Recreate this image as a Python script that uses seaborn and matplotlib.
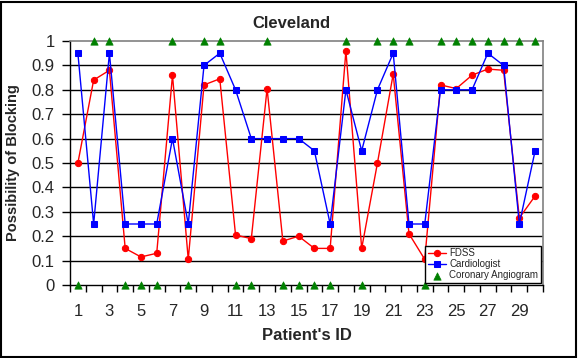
import matplotlib
matplotlib.use("Agg")
import matplotlib.pyplot as plt
import seaborn as sns
import pandas as pd
from matplotlib.ticker import FixedLocator

# Data
patients = list(range(1, 31))
fdss = [0.50, 0.84, 0.88, 0.15, 0.115, 0.13, 0.86, 0.105, 0.82, 0.845,
        0.205, 0.19, 0.805, 0.18, 0.20, 0.15, 0.15, 0.96, 0.15, 0.50,
        0.865, 0.21, 0.105, 0.82, 0.805, 0.86, 0.885, 0.88, 0.275, 0.365]
cardiologist = [0.95, 0.25, 0.95, 0.25, 0.25, 0.25, 0.60, 0.25, 0.90, 0.95,
                0.80, 0.60, 0.60, 0.60, 0.60, 0.55, 0.25, 0.80, 0.55, 0.80,
                0.95, 0.25, 0.25, 0.80, 0.80, 0.80, 0.95, 0.90, 0.25, 0.55]
angiogram = [0, 1, 1, 0, 0, 0, 1, 0, 1, 1,
             0, 0, 1, 0, 0, 0, 0, 1, 0, 1,
             1, 1, 0, 1, 1, 1, 1, 1, 1, 1]
xtick_labels = [str(i) for i in range(1, 30, 2)]
ytick_values = [i / 10 for i in range(0, 11)]
ytick_labels = ["0", "0.1", "0.2", "0.3", "0.4", "0.5", "0.6", "0.7", "0.8", "0.9", "1"]

df = pd.DataFrame({"patient": patients, "FDSS": fdss,
                   "Cardiologist": cardiologist, "Angiogram": angiogram})

sns.set_style("white")
plt.rcParams['font.family'] = ['Liberation Sans', 'DejaVu Sans']

fig = plt.figure(figsize=(5.78, 3.58), dpi=100)
ax = fig.add_axes([70 / 578, 1 - 285 / 358, 473 / 578, 244 / 358])

# horizontal gridlines
for v in ytick_values[1:-1]:
    ax.axhline(v, color="black", linewidth=1, zorder=0)

sns.lineplot(data=df, x="patient", y="FDSS", ax=ax, color="#ff0000", linewidth=1,
             marker="o", markersize=4.5, markeredgecolor="#ff0000", label="FDSS")
sns.lineplot(data=df, x="patient", y="Cardiologist", ax=ax, color="#0000ff", linewidth=1,
             marker="s", markersize=4.5, markeredgecolor="#0000ff", label="Cardiologist")
sns.scatterplot(data=df, x="patient", y="Angiogram", ax=ax, color="#008000", marker="^",
                s=28, edgecolor="#008000", linewidth=0.5, label="Coronary Angiogram",
                zorder=5, clip_on=False)

ax.set_xlim(0.5, 30.5)
ax.set_ylim(0, 1)
ax.yaxis.set_major_locator(FixedLocator(ytick_values))
ax.set_yticklabels(ytick_labels)
ax.xaxis.set_major_locator(FixedLocator(list(range(1, 30, 2))))
ax.set_xticklabels(xtick_labels)
ax.xaxis.set_minor_locator(FixedLocator([i + 0.5 for i in range(0, 31)]))
ax.tick_params(axis="x", which="major", length=0, pad=14, labelsize=12)
ax.tick_params(axis="x", which="minor", length=5, width=1, color="black", direction="out", bottom=True)
ax.tick_params(axis="y", which="major", length=6, width=1, color="black", direction="out",
               left=True, labelsize=12, pad=5)

for side in ["left", "bottom"]:
    ax.spines[side].set_color("black")
    ax.spines[side].set_linewidth(1)
for side in ["top", "right"]:
    ax.spines[side].set_color("#808080")
    ax.spines[side].set_linewidth(1.2)

ax.set_xlabel("Patient's ID", fontsize=12, fontweight="bold", labelpad=6)
ax.set_ylabel("Possibility of Blocking", fontsize=10.5, fontweight="bold", labelpad=8)
fig.text(0.505, 1 - 24 / 358, "Cleveland", ha="center", va="center", fontsize=12, fontweight="bold")

leg = ax.legend(loc="lower right", bbox_to_anchor=(1.0, 0.0), borderaxespad=0.25,
                fontsize=7, frameon=True, fancybox=False, edgecolor="black",
                framealpha=1, handlelength=1.9, borderpad=0.25, labelspacing=0.1,
                handletextpad=0.3)
leg.get_frame().set_linewidth(1)

# outer border around the whole chart
fig.patches.append(plt.Rectangle((0.002, 0.003), 0.994, 0.992, transform=fig.transFigure,
                                 fill=False, edgecolor="black", linewidth=1.5))

fig.savefig("out.png", dpi=100)
